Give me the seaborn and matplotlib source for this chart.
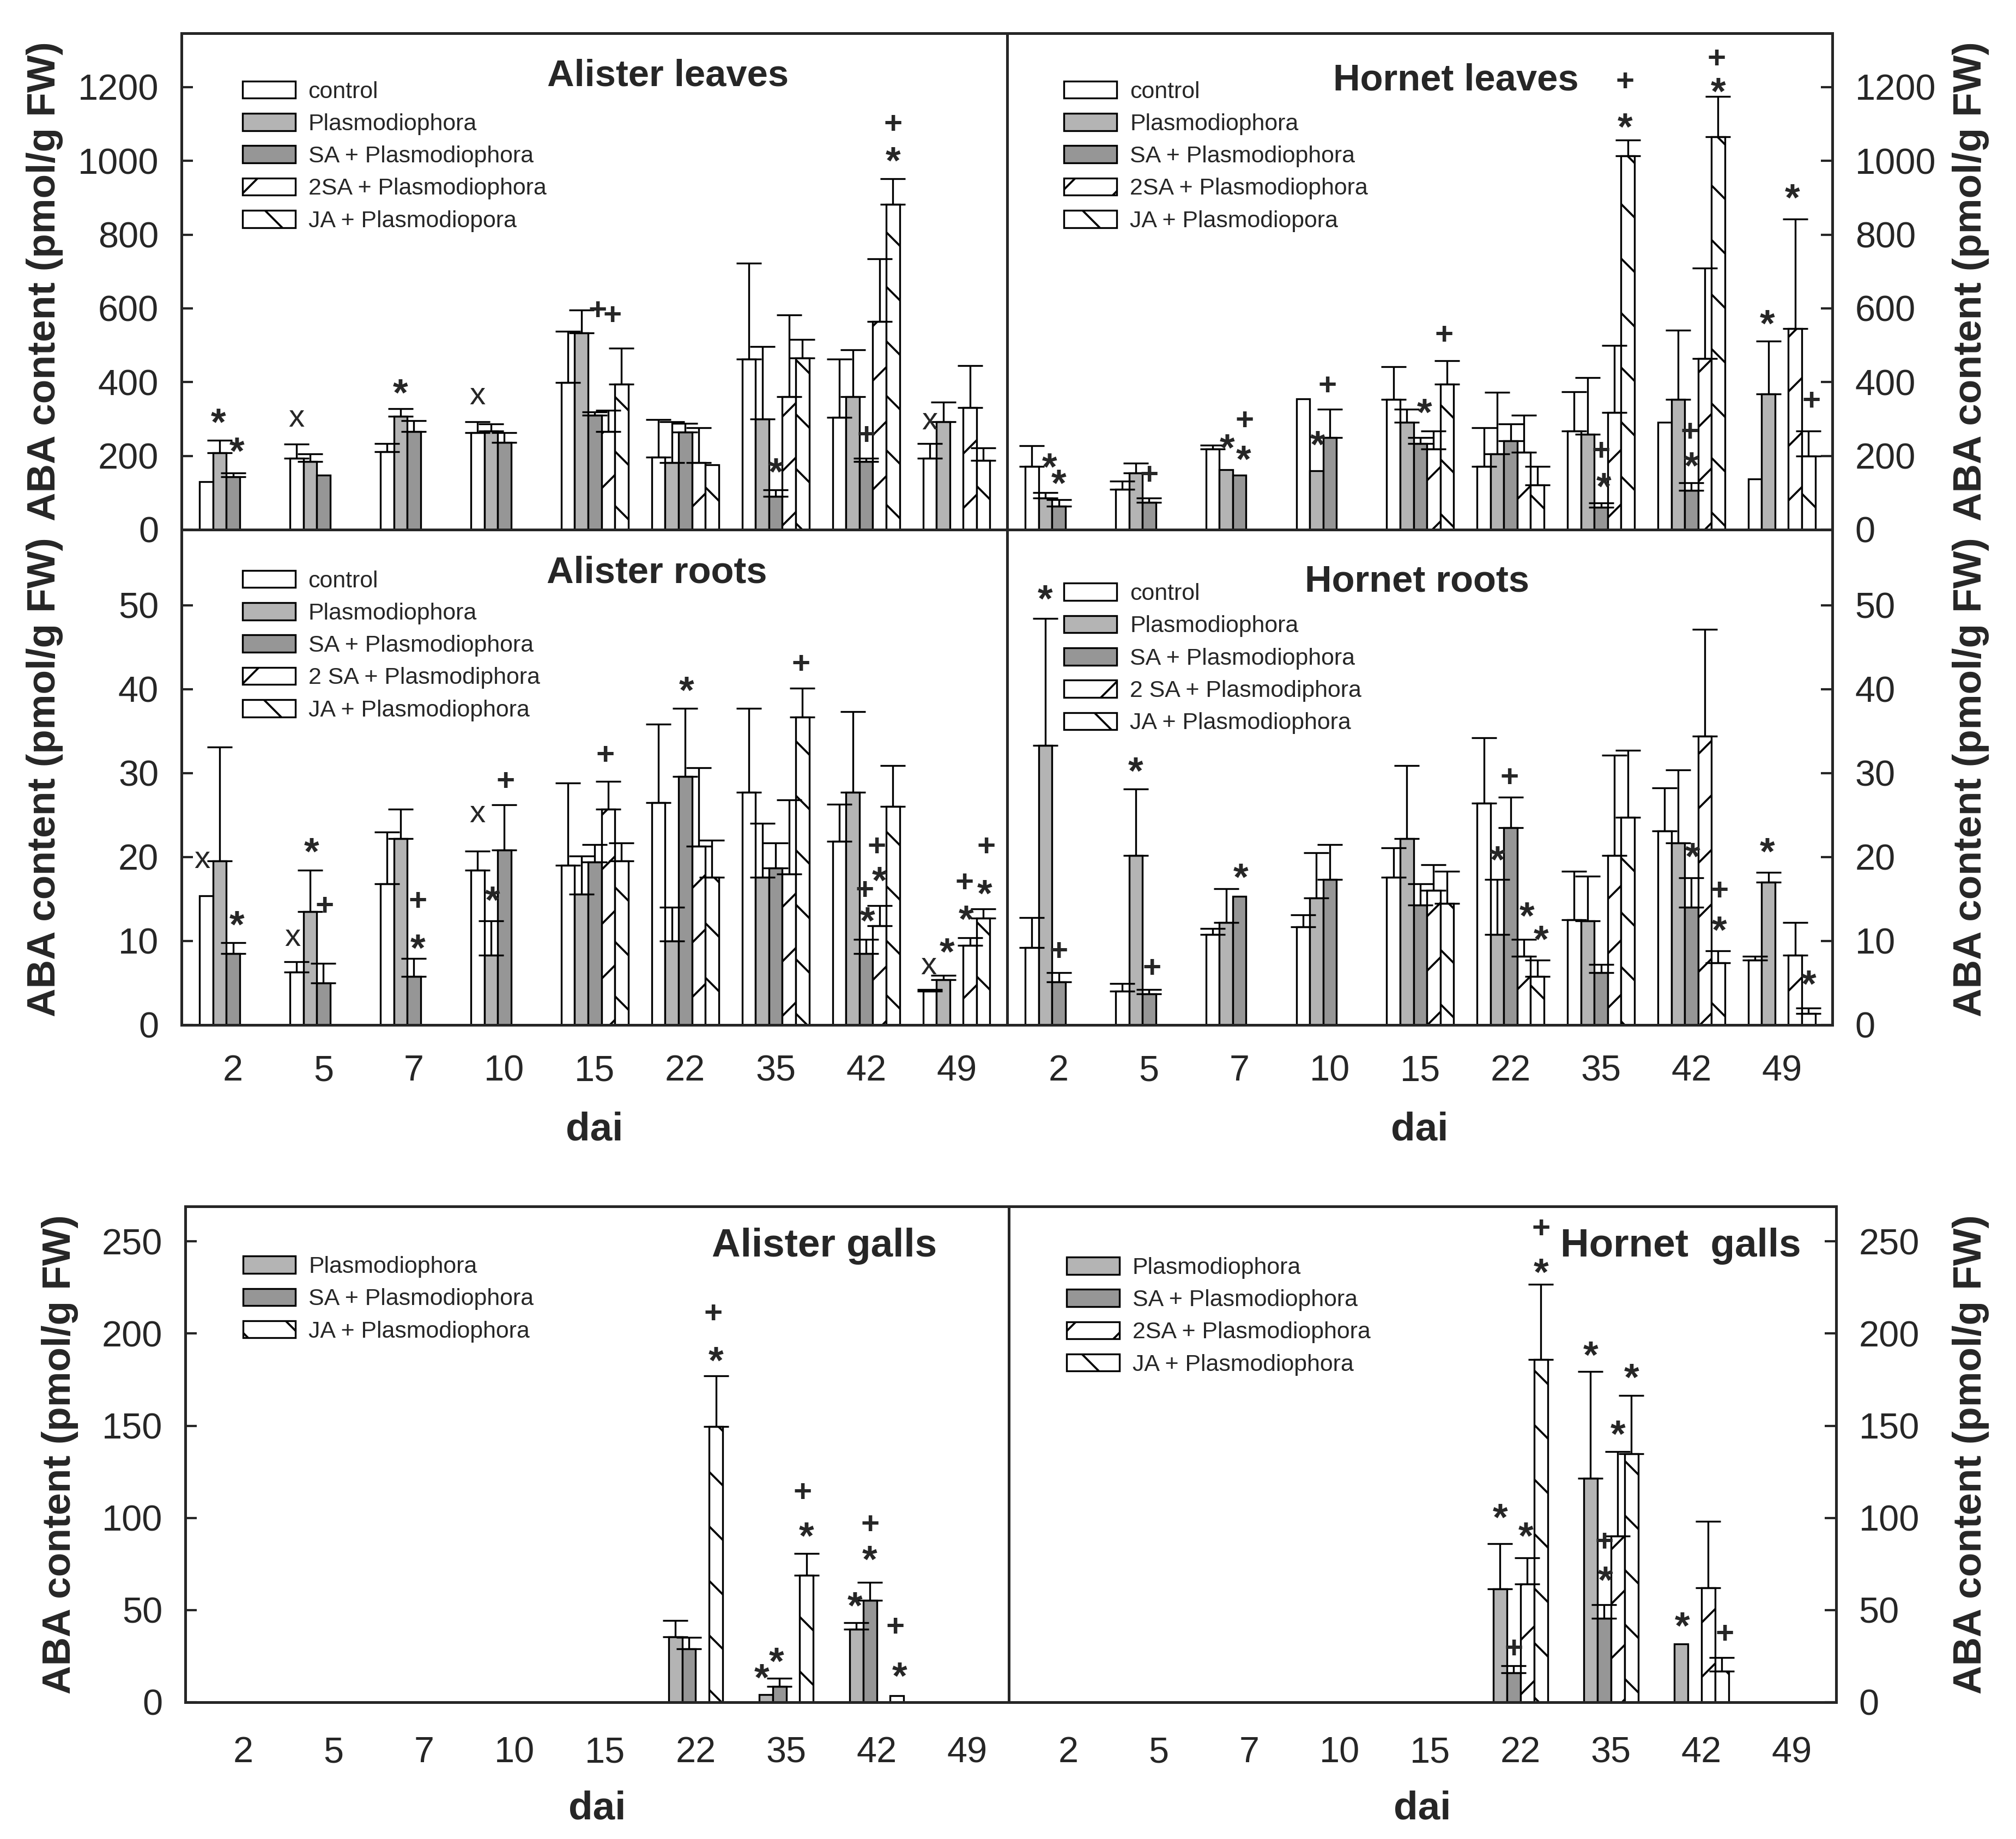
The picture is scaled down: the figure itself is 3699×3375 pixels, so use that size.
import numpy as np
import pandas as pd
import matplotlib
matplotlib.use("Agg")
import matplotlib.pyplot as plt
from matplotlib.patches import Patch
from matplotlib.colors import to_hex
import seaborn as sns

nan = np.nan

days = ["2", "5", "7", "10", "15", "22", "35", "42", "49"]
treatments = ["control", "Plasmodiophora", "SA", "2SA", "JA"]
galls_treatments = ["Plasmodiophora", "SA", "2SA", "JA"]

# ---- Alister leaves (pmol/g FW) ----
al_mean = {
    "control":        [130, 194, 211, 263, 399, 197, 463, 305, 193],
    "Plasmodiophora": [208, 184, 308, 267, 534, 182, 300, 361, 293],
    "SA":             [144, 148, 266, 237, 311, 265, 90, 184, nan],
    "2SA":            [nan, nan, nan, nan, 266, 182, 360, 564, 331],
    "JA":             [nan, nan, nan, nan, 394, 176, 465, 882, 187],
}
al_err = {
    "control":        [0, 38, 23, 30, 139, 101, 259, 158, 41],
    "Plasmodiophora": [34, 22, 20, 19, 61, 111, 196, 126, 53],
    "SA":             [9, 0, 29, 26, 8, 23, 18, 9, nan],
    "2SA":            [nan, nan, nan, nan, 57, 95, 222, 171, 114],
    "JA":             [nan, nan, nan, nan, 98, 0, 50, 69, 34],
}
al_marks = [(0, 0.9, 315, "*"), (0, 2.3, 236, "*"), (1, 0, 302, "x"), (2, 1, 394, "*"),
            (3, 0, 363, "x"), (4, 2.2, 600, "+"), (4, 3.3, 586, "+"), (6, 2, 180, "*"),
            (7, 2, 261, "+"), (7, 4, 1105, "+"), (7, 4, 1024, "*"), (8, 0, 295, "x")]

# ---- Hornet leaves ----
hl_mean = {
    "control":        [171, 109, 219, 354, 353, 171, 267, 291, 137],
    "Plasmodiophora": [86, 153, 162, 160, 291, 206, 258, 353, 368],
    "SA":             [64, 74, 148, 249, 234, 241, 61, 107, nan],
    "2SA":            [nan, nan, nan, nan, 219, 210, 318, 464, 545],
    "JA":             [nan, nan, nan, nan, 394, 121, 1014, 1066, 200],
}
hl_err = {
    "control":        [57, 22, 10, 0, 89, 105, 107, 0, 0],
    "Plasmodiophora": [15, 28, 0, 0, 35, 166, 155, 188, 144],
    "SA":             [17, 12, 0, 77, 15, 45, 12, 20, nan],
    "2SA":            [nan, nan, nan, nan, 48, 101, 182, 245, 297],
    "JA":             [nan, nan, nan, nan, 64, 50, 42, 109, 67],
}
hl_marks = [(0, 1.3, 193, "*"), (0, 2, 149, "*"), (1, 2, 153, "+"), (2, 1.1, 245, "*"),
            (2, 2.3, 214, "*"), (2, 2.4, 302, "+"), (3, 1.1, 254, "*"), (3, 1.8, 396, "+"),
            (4, 2.3, 341, "*"), (4, 3.8, 534, "+"), (6, 2, 219, "+"), (6, 2.2, 140, "*"),
            (6, 3.8, 1116, "*"), (6, 3.8, 1221, "+"), (7, 1.9, 271, "+"), (7, 2, 197, "*"),
            (7, 4, 1212, "*"), (7, 3.9, 1282, "+"), (8, 0.9, 582, "*"), (8, 2.8, 923, "*"),
            (8, 4.2, 354, "+")]

# ---- Alister roots ----
ar_mean = {
    "control":        [15.4, 6.3, 16.8, 18.4, 19.0, 26.5, 27.7, 21.9, 4.0],
    "Plasmodiophora": [19.5, 13.5, 22.2, 8.3, 15.6, 10.0, 17.6, 27.7, 5.4],
    "SA":             [8.5, 5.0, 5.8, 20.8, 19.4, 29.6, 18.7, 8.5, nan],
    "2SA":            [nan, nan, nan, nan, 25.7, 21.3, 18.0, 11.8, 9.5],
    "JA":             [nan, nan, nan, nan, 19.5, 17.6, 36.7, 26.0, 12.7],
}
ar_err = {
    "control":        [0, 1.2, 6.2, 2.3, 9.8, 9.3, 10.0, 4.4, 0.2],
    "Plasmodiophora": [13.6, 4.9, 3.5, 4.1, 4.5, 4.0, 6.4, 9.6, 0.5],
    "SA":             [1.3, 2.3, 2.1, 5.4, 2.1, 8.1, 3.0, 1.7, nan],
    "2SA":            [nan, nan, nan, nan, 3.3, 9.3, 8.8, 2.4, 0.9],
    "JA":             [nan, nan, nan, nan, 2.2, 4.4, 3.4, 4.9, 1.1],
}
ar_marks = [(0, -0.3, 19.7, "x"), (0, 2.3, 13, "*"), (1, -0.3, 10.4, "x"), (1, 1.1, 21.7, "*"),
            (1, 2.1, 14.4, "+"), (2, 2.3, 15.0, "+"), (2, 2.3, 10.2, "*"), (3, 0, 25.1, "x"),
            (3, 1.1, 15.9, "*"), (3, 2.1, 29.3, "+"), (4, 2.8, 32.4, "+"), (5, 2.1, 40.9, "*"),
            (6, 3.9, 43.2, "+"), (7, 1.9, 16.3, "+"), (7, 2.1, 13.4, "*"), (7, 2.8, 21.5, "+"),
            (7, 3.0, 18.2, "*"), (8, -0.1, 7.0, "x"), (8, 1.3, 9.7, "*"), (8, 2.6, 17.2, "+"),
            (8, 2.7, 13.6, "*"), (8, 4.2, 21.5, "+"), (8, 4.1, 16.7, "*")]

# ---- Hornet roots ----
hr_mean = {
    "control":        [9.2, 4.0, 10.8, 11.7, 17.6, 26.4, 12.5, 23.1, 7.7],
    "Plasmodiophora": [33.3, 20.2, 12.2, 15.1, 22.2, 10.8, 12.4, 21.7, 17.0],
    "SA":             [5.1, 3.7, 15.3, 17.3, 14.3, 23.5, 6.2, 14.0, nan],
    "2SA":            [nan, nan, nan, nan, 16.0, 8.2, 20.2, 34.4, 8.3],
    "JA":             [nan, nan, nan, nan, 14.5, 5.8, 24.7, 7.4, 1.35],
}
hr_err = {
    "control":        [3.6, 0.9, 0.7, 1.4, 3.5, 7.8, 5.8, 5.1, 0.5],
    "Plasmodiophora": [15.1, 7.9, 4.0, 5.4, 8.7, 6.5, 5.3, 8.7, 1.2],
    "SA":             [1.1, 0.5, 0, 4.2, 2.5, 3.6, 1.0, 3.5, nan],
    "2SA":            [nan, nan, nan, nan, 3.1, 2.0, 11.9, 12.7, 3.9],
    "JA":             [nan, nan, nan, nan, 3.8, 1.9, 8.0, 1.4, 0.65],
}
hr_marks = [(0, 1, 51.8, "*"), (0, 2, 9.0, "+"), (1, 1, 31.3, "*"), (1, 2.2, 7.0, "+"),
            (2, 2.1, 18.6, "*"), (5, 1, 20.7, "*"), (5, 1.9, 29.7, "+"), (5, 3.2, 14.0, "*"),
            (5, 4.3, 11.2, "*"), (7, 2.1, 21.1, "*"), (7, 4.1, 16.2, "+"), (7, 4.1, 12.3, "*"),
            (8, 0.9, 21.7, "*"), (8, 4, 5.9, "*")]

# ---- Alister galls ----
ag_mean = {
    "Plasmodiophora": [nan, nan, nan, nan, nan, 35.5, 4.2, 39.5, nan],
    "SA":             [nan, nan, nan, nan, nan, 28.8, 8.5, 55.4, nan],
    "2SA":            [nan] * 9,
    "JA":             [nan, nan, nan, nan, nan, 149.5, 69, 3.4, nan],
}
ag_err = {
    "Plasmodiophora": [nan, nan, nan, nan, nan, 8.7, 0, 3.6, nan],
    "SA":             [nan, nan, nan, nan, nan, 6.3, 4.4, 9.5, nan],
    "2SA":            [nan] * 9,
    "JA":             [nan, nan, nan, nan, nan, 27.7, 11.8, 0, nan],
}
ag_marks = [(5, 2.8, 212, "+"), (5, 3.0, 190, "*"), (6, -0.3, 18, "*"), (6, 0.8, 27, "*"),
            (6, 2.7, 115, "+"), (6, 3.0, 95, "*"), (7, -0.1, 57, "*"), (7, 1.0, 97.5, "+"),
            (7, 1.0, 82, "*"), (7, 2.85, 42, "+"), (7, 3.2, 19, "*")]

# ---- Hornet galls ----
hg_mean = {
    "Plasmodiophora": [nan, nan, nan, nan, nan, 61.4, 121.6, 31.5, nan],
    "SA":             [nan, nan, nan, nan, nan, 16, 45.5, nan, nan],
    "2SA":            [nan, nan, nan, nan, nan, 64, 90.2, 62, nan],
    "JA":             [nan, nan, nan, nan, nan, 186, 134.8, 16.8, nan],
}
hg_err = {
    "Plasmodiophora": [nan, nan, nan, nan, nan, 24.6, 57.9, 0, nan],
    "SA":             [nan, nan, nan, nan, nan, 3.7, 7.5, nan, nan],
    "2SA":            [nan, nan, nan, nan, nan, 14.4, 45.8, 36, nan],
    "JA":             [nan, nan, nan, nan, nan, 40.6, 31.5, 7.5, nan],
}
hg_marks = [(5, 0, 105, "*"), (5, 1, 30, "+"), (5, 1.9, 95, "*"), (5, 3, 238, "*"),
            (5, 3, 258, "+"), (6, 0, 193, "*"), (6, 1, 88, "+"), (6, 1.1, 71, "*"),
            (6, 2, 150, "*"), (6, 3, 181, "*"), (7, 0.1, 46, "*"), (7, 3.2, 38, "+")]

leaves_labels = ["control", "Plasmodiophora", "SA + Plasmodiophora",
                 "2SA + Plasmodiophora", "JA + Plasmodiopora"]
roots_labels = ["control", "Plasmodiophora", "SA + Plasmodiophora",
                "2 SA + Plasmodiphora", "JA + Plasmodiophora"]
ag_labels = ["Plasmodiophora", "SA + Plasmodiophora", "JA + Plasmodiophora"]
hg_labels = ["Plasmodiophora", "SA + Plasmodiophora", "2SA + Plasmodiophora",
             "JA + Plasmodiophora"]

# styles
fill = {"control": "white", "Plasmodiophora": "#b4b4b4", "SA": "#969696",
        "2SA": "white", "JA": "white"}
hatch = {"control": "", "Plasmodiophora": "", "SA": "", "2SA": "/", "JA": "\\"}
key_color = {"control": "#fffff0", "Plasmodiophora": "#b4b4b4", "SA": "#969696",
             "2SA": "#fffff1", "JA": "#fffff2"}

sns.set_style("ticks")
plt.rcParams["font.family"] = ["Liberation Sans", "DejaVu Sans"]
plt.rcParams["axes.linewidth"] = 1.2
plt.rcParams["hatch.linewidth"] = 0.9

fig = plt.figure(figsize=(3699 / 300, 3375 / 300), dpi=300)

sym_off = {"*": 0.56, "+": 0.36, "x": 0.26}


def panel(ax, means, errs, levels, width, marks, ylim, yticks, xlim):
    rows = []
    for t in levels:
        for d, m in zip(days, means[t]):
            if not np.isnan(m):
                rows.append((d, t, m))
    df = pd.DataFrame(rows, columns=["dai", "treatment", "aba"])
    sns.barplot(data=df, x="dai", y="aba", hue="treatment", order=days, hue_order=levels,
                palette={t: key_color[t] for t in levels}, width=width, saturation=1,
                errorbar=None, legend=False, edgecolor="black", linewidth=0.8, ax=ax)
    lookup = {key_color[t]: t for t in levels}
    for p in ax.patches:
        t = lookup.get(to_hex(p.get_facecolor()))
        if t is None:
            continue
        p.set_facecolor(fill[t])
        p.set_hatch(hatch[t])
        xc = p.get_x() + p.get_width() / 2
        e = errs[t][int(round(xc))]
        if e > 0:
            ax.errorbar(xc, p.get_height(), yerr=[[0], [e]], fmt="none", ecolor="black",
                        elinewidth=0.8, capsize=5.5, capthick=0.8, zorder=3)
    n = len(levels)
    bw = width / n
    for d, s, y, sym in marks:
        fs = 17 if sym == "*" else 14
        ax.annotate(sym, (d + (s - (n - 1) / 2) * bw, y),
                    xytext=(0, -sym_off[sym] * fs), textcoords="offset points",
                    ha="center", va="baseline", fontsize=fs,
                    fontweight="normal" if sym == "x" else "bold", zorder=4)
    ax.set_xlim(*xlim)
    ax.set_ylim(*ylim)
    ax.set_yticks(yticks)
    ax.set_xlabel("")
    ax.set_ylabel("")
    ax.tick_params(axis="y", direction="in", length=5, width=1, labelsize=16, pad=10)
    ax.tick_params(axis="x", length=0, labelsize=16, pad=13)
    for sp in ax.spines.values():
        sp.set_visible(True)
        sp.set_linewidth(1.2)
        sp.set_zorder(5)


def add_legend(ax, levels, labels, xy):
    handles = [Patch(facecolor=fill[t], edgecolor="black", hatch=hatch[t], linewidth=0.8)
               for t in levels]
    ax.legend(handles, labels, loc="upper left", bbox_to_anchor=xy, frameon=False,
              fontsize=10.3, handlelength=2.25, handleheight=0.75, handletextpad=0.56,
              labelspacing=0.45, borderpad=0, borderaxespad=0)


def side(ax, right):
    if right:
        ax.yaxis.tick_right()
        ax.yaxis.set_label_position("right")


top_xlim = (-0.57, 8.56)
ax_al = fig.add_axes([0.0900, 0.7120, 0.4096, 0.2699])
ax_hl = fig.add_axes([0.4996, 0.7120, 0.4093, 0.2699])
ax_ar = fig.add_axes([0.0900, 0.4427, 0.4096, 0.2693])
ax_hr = fig.add_axes([0.4996, 0.4427, 0.4093, 0.2693])
ax_ag = fig.add_axes([0.0919, 0.0744, 0.4085, 0.2696])
ax_hg = fig.add_axes([0.5004, 0.0744, 0.4104, 0.2696])

panel(ax_al, al_mean, al_err, treatments, 0.74, al_marks, (0, 1346), range(0, 1201, 200), top_xlim)
panel(ax_hl, hl_mean, hl_err, treatments, 0.74, hl_marks, (0, 1346), range(0, 1201, 200), top_xlim)
panel(ax_ar, ar_mean, ar_err, treatments, 0.74, ar_marks, (0, 59), range(0, 51, 10), top_xlim)
panel(ax_hr, hr_mean, hr_err, treatments, 0.74, hr_marks, (0, 59), range(0, 51, 10), top_xlim)
panel(ax_ag, ag_mean, ag_err, galls_treatments, 0.6, ag_marks, (0, 269), range(0, 251, 50), (-0.64, 8.46))
panel(ax_hg, hg_mean, hg_err, galls_treatments, 0.6, hg_marks, (0, 269), range(0, 251, 50), (-0.657, 8.49))

for ax in (ax_al, ax_hl):
    ax.tick_params(axis="x", labelbottom=False)
for ax in (ax_hl, ax_hr, ax_hg):
    side(ax, True)
for ax in (ax_ag, ax_hg):
    ax.tick_params(axis="x", pad=15)

add_legend(ax_al, treatments, leaves_labels, (0.074, 0.904))
add_legend(ax_hl, treatments, leaves_labels, (0.069, 0.904))
add_legend(ax_ar, treatments, roots_labels, (0.074, 0.918))
add_legend(ax_hr, treatments, roots_labels, (0.069, 0.892))
add_legend(ax_ag, ["Plasmodiophora", "SA", "JA"], ag_labels, (0.070, 0.900))
add_legend(ax_hg, galls_treatments, hg_labels, (0.070, 0.898))

titles = [(ax_al, "Alister leaves", 0.589, 0.914, 16.5), (ax_hl, "Hornet leaves", 0.544, 0.905, 16.5),
          (ax_ar, "Alister roots", 0.576, 0.913, 16.5), (ax_hr, "Hornet roots", 0.497, 0.895, 16.5),
          (ax_ag, "Alister galls", 0.776, 0.920, 17.5), (ax_hg, "Hornet  galls", 0.812, 0.920, 17.5)]
for ax, txt, x, y, fs in titles:
    ax.text(x, y, txt, transform=ax.transAxes, ha="center", va="center",
            fontsize=fs, fontweight="bold", zorder=6)

ylab = "ABA content (pmol/g FW)"
for ax, xpos in ((ax_al, -0.143), (ax_ar, -0.143), (ax_hl, 1.145), (ax_hr, 1.145),
                 (ax_ag, -0.13), (ax_hg, 1.14)):
    ax.set_ylabel(ylab, fontsize=17.5, fontweight="bold")
    ax.yaxis.set_label_coords(xpos, 0.5)

for ax, ypos in ((ax_ar, -0.174), (ax_hr, -0.174), (ax_ag, -0.178), (ax_hg, -0.178)):
    ax.set_xlabel("dai", fontsize=17.5, fontweight="bold")
    ax.xaxis.set_label_coords(0.5, ypos)

fig.savefig("out.png", dpi=300, facecolor="white")
